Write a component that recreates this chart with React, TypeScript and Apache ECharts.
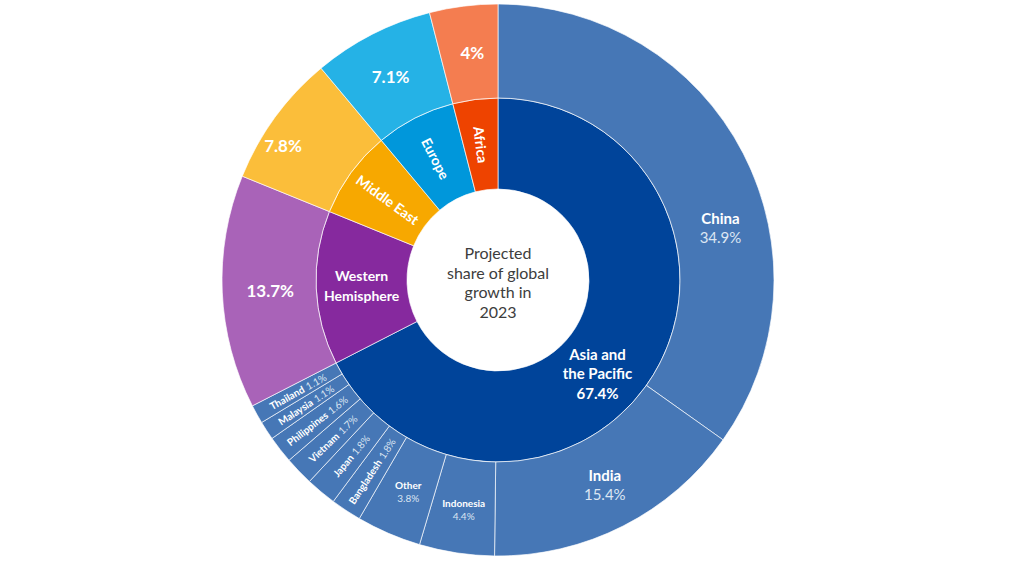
import React, { useEffect, useRef } from 'react';
import * as echarts from 'echarts';

// ---- data ----
const regions = ['Asia and the Pacific', 'Western Hemisphere', 'Middle East', 'Europe', 'Africa'];
const regionLabelLines = [['Asia and', 'the Pacific'], ['Western', 'Hemisphere'], ['Middle East'], ['Europe'], ['Africa']];
const regionShares = [67.4, 13.7, 7.8, 7.1, 4];
const countries = ['China', 'India', 'Indonesia', 'Other', 'Bangladesh', 'Japan', 'Vietnam', 'Philippines', 'Malaysia', 'Thailand'];
const countryShares = [34.9, 15.4, 4.4, 3.8, 1.8, 1.8, 1.7, 1.6, 1.1, 1.1];
const centerLines = ['Projected', 'share of global', 'growth in', '2023'];

// ---- styles ----
const innerColors = ['#00449A', '#86299E', '#F7A800', '#0097DB', '#EE4300'];
const outerColors = ['#4677B6', '#A963B8', '#FBBE3A', '#25B2E6', '#F47D50'];
const FONT = 'Lato, "Noto Sans", sans-serif';
// label shifts (dx, dy) in pixels, realised with asymmetric padding
const innerShift: Record<string, number[]> = {
  'Asia and the Pacific': [-17, 22],
};
const outerShift: Record<string, number[]> = {
  'Western Hemisphere': [1, 3],
  'Middle East': [-30, 3],
  Europe: [-3, 1],
  Africa: [3, 0],
};
const countryShift: Record<string, number[]> = {
  China: [19, 53],
  India: [3, 0],
  Indonesia: [0, 3],
  Other: [1, 1],
};

const shiftPad = (s?: number[]) => {
  if (!s) return 0;
  const [dx, dy] = s;
  return [Math.max(2 * dy, 0), Math.max(-2 * dx, 0), Math.max(-2 * dy, 0), Math.max(2 * dx, 0)];
};

const fmt = (v: number) => `${v}%`;

function buildData() {
  return regions.map((region, i) => {
    const lines = i === 0 ? [...regionLabelLines[i], fmt(regionShares[i])] : regionLabelLines[i];
    const innerLabel = {
      show: true,
      rotate: i <= 1 ? 0 : 'radial',
      padding: shiftPad(innerShift[region]),
      formatter: lines.map((l) => `{t|${l}}`).join('\n'),
      align: 'center',
      rich: {
        t: {
          color: '#ffffff',
          fontFamily: FONT,
          fontWeight: 'bold',
          fontSize: i === 0 ? 15 : 14,
          lineHeight: i === 0 ? 19.5 : 20,
        },
      },
    };
    if (i === 0) {
      return {
        name: region,
        itemStyle: { color: innerColors[i] },
        label: innerLabel,
        children: countries.map((c, j) => {
          const big = j < 2;
          const mid = j >= 2 && j < 4;
          const nameSize = big ? 15 : 10;
          return {
            name: c,
            value: countryShares[j],
            itemStyle: { color: outerColors[0] },
            label: {
              show: true,
              rotate: big || mid ? 0 : 'radial',
              padding: shiftPad(countryShift[c]),
              formatter: big || mid ? `{n|${c}}\n{v|${fmt(countryShares[j])}}` : `{n|${c}} {v|${fmt(countryShares[j])}}`,
              align: 'center',
              rich: {
                n: { color: '#ffffff', fontFamily: FONT, fontWeight: 'bold', fontSize: nameSize, lineHeight: big ? 19 : 13 },
                v: { color: '#dce6f3', fontFamily: FONT, fontWeight: 'normal', fontSize: nameSize, lineHeight: big ? 19 : 13 },
              },
            },
          };
        }),
      };
    }
    return {
      name: region,
      value: regionShares[i],
      itemStyle: { color: innerColors[i] },
      label: innerLabel,
      children: [
        {
          name: region + ' ',
          value: regionShares[i],
          itemStyle: { color: outerColors[i] },
          label: {
            show: true,
            rotate: 0,
            padding: shiftPad(outerShift[region]),
            formatter: fmt(regionShares[i]),
            color: '#ffffff',
            fontFamily: FONT,
            fontWeight: 'bold',
            fontSize: 17,
          },
        },
      ],
    };
  });
}

export default function App() {
  const ref = useRef<HTMLDivElement>(null);
  useEffect(() => {
    if (!ref.current) return;
    const chart = echarts.init(ref.current, null, { renderer: 'svg' });
    chart.setOption({
      animation: false,
      backgroundColor: '#ffffff',
      graphic: [
        {
          type: 'text',
          x: 498,
          y: 282,
          style: {
            text: centerLines.join('\n'),
            textAlign: 'center',
            textVerticalAlign: 'middle',
            fontFamily: FONT,
            fontSize: 16,
            lineHeight: 19.5,
            fill: '#3d3d3d',
          },
          z: 100,
        },
      ],
      series: [
        {
          type: 'sunburst',
          center: [498, 280],
          sort: null,
          nodeClick: false,
          startAngle: 90,
          emphasis: { disabled: true },
          itemStyle: { borderColor: 'rgba(255,255,255,0.65)', borderWidth: 1 },
          levels: [
            {},
            { r0: 91, r: 182, itemStyle: { borderColor: 'rgba(255,255,255,0.65)', borderWidth: 1 } },
            { r0: 182, r: 276, itemStyle: { borderColor: 'rgba(255,255,255,0.65)', borderWidth: 1 } },
          ],
          data: buildData(),
        },
      ],
    });
    return () => chart.dispose();
  }, []);
  return <div ref={ref} style={{ position: 'absolute', left: 0, top: 0, width: 1024, height: 564 }} />;
}
